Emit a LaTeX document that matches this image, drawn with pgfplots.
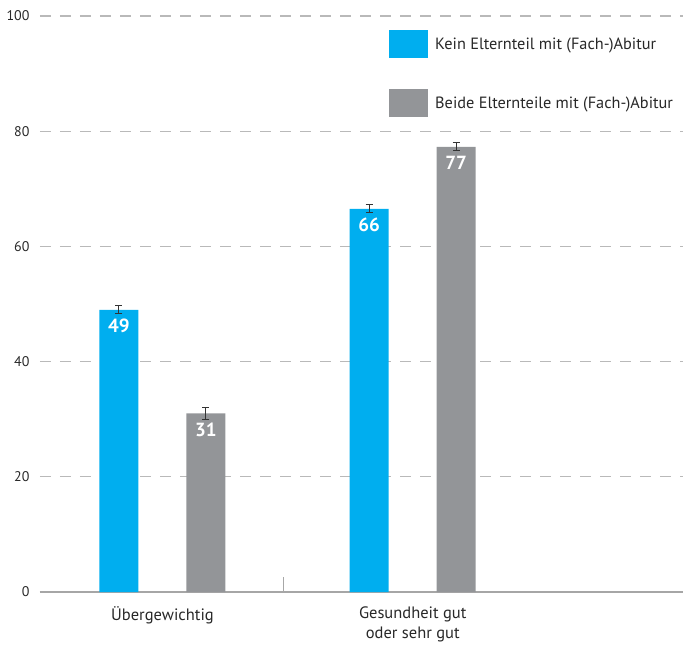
\documentclass[border=0pt]{standalone}
\usepackage{fontspec}
\setmainfont{PT Sans}
\usepackage{pgfplots}
\usepackage{pgfplotstable}
\pgfplotsset{compat=1.18}
\definecolor{cyanbar}{RGB}{0,174,239}
\definecolor{graybar}{RGB}{147,149,152}
\definecolor{gridgray}{RGB}{185,185,185}
\definecolor{txt}{RGB}{40,40,40}

\pgfplotstableread{
x y e l
0 49.0 0.7 49
1 66.5 0.7 66
}\kein
\pgfplotstableread{
x y e l
0 31.0 1.0 31
1 77.3 0.7 77
}\beide

\begin{document}
\begin{tikzpicture}
\begin{axis}[
  scale only axis, width=643pt, height=576pt,
  xmin=-0.4895, xmax=2.080, ymin=0, ymax=100,
  ybar, bar width=39pt,
  axis lines*=left,
  y axis line style={draw=none},
  x axis line style={draw=gridgray!90!black, line width=1.2pt},
  ytick={0,20,40,60,80,100},
  ytick style={draw=none},
  ymajorgrids,
  grid style={draw=gridgray, line width=1.2pt, dash pattern=on 11pt off 9pt},
  xtick={0,1},
  xticklabels={Übergewichtig,{Gesundheit gut\\oder sehr gut}},
  xtick style={draw=none},
  xticklabel style={align=center, font=\fontsize{16.5}{20}\selectfont, text=txt, yshift=-7pt},
  yticklabel style={font=\fontsize{14}{16}\selectfont, text=txt, xshift=-7pt},
  /pgf/number format/assume math mode=true,
  point meta=explicit symbolic,
  nodes near coords,
  nodes near coords style={anchor=north, yshift=-8pt, inner sep=1pt, text=white, font=\bfseries\fontsize{19}{19}\selectfont},
  error bars/y dir=both, error bars/y explicit,
  error bars/error bar style={line width=1pt, color=black!80},
  error bars/error mark options={rotate=90, mark size=3.5pt, line width=1pt, color=black!80},
  legend image code/.code={\fill[#1] (0pt,-14pt) rectangle (39pt,14pt);},
  legend style={draw=none, fill=none, at={(0.5428,0.9757)}, anchor=north west,
    font=\fontsize{16.3}{18}\selectfont, text=txt, inner sep=0pt,
    row sep=31pt, /tikz/every odd column/.style={column sep=5pt}},
  legend cell align=left,
]
\addplot[fill=cyanbar, draw=none, bar shift=-43.5pt] table[x=x, y=y, y error=e, meta=l]{\kein};
\addplot[fill=graybar, draw=none, bar shift=43.5pt] table[x=x, y=y, y error=e, meta=l]{\beide};
\legend{Kein Elternteil mit (Fach-)Abitur, Beide Elternteile mit (Fach-)Abitur}
\draw[gridgray!90!black, line width=1pt] (axis cs:0.482,0) -- (axis cs:0.482,2.6);
\coordinate (SW) at (rel axis cs:0,0);
\coordinate (NE) at (rel axis cs:1,1);
\end{axis}
\pgfresetboundingbox
\useasboundingbox ([shift={(-40pt,-54pt)}]SW) rectangle ([shift={(0pt,16pt)}]NE);
\end{tikzpicture}
\end{document}
